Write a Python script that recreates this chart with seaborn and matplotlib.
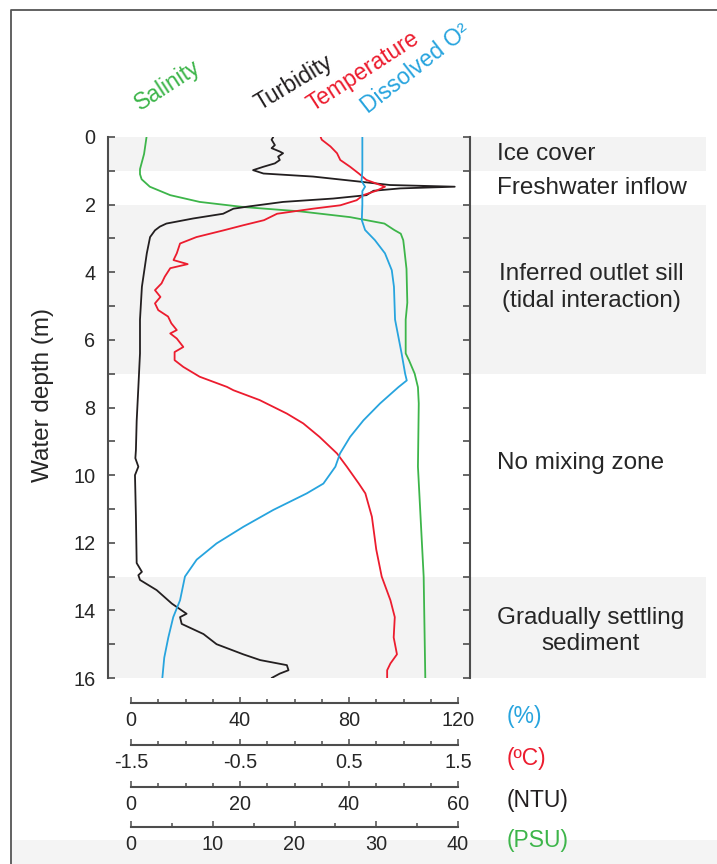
import numpy as np
import pandas as pd
import seaborn as sns
import matplotlib.pyplot as plt
import matplotlib.transforms as mtransforms
from matplotlib.lines import Line2D
from matplotlib.patches import Rectangle

# salinity profile (PSU)
sal_depth = [0, 0.5, 0.95, 1.1, 1.25, 1.47, 1.72, 1.92, 2.07, 2.2, 2.37, 2.46, 2.56,
             2.75, 2.86, 3.05, 3.25, 3.9, 4.9, 5.4, 6.4, 6.6, 7.0, 7.4, 7.88, 9.75,
             13.0, 16.0]
sal_psu = [1.9, 1.6, 1.1, 1.1, 1.3, 2.3, 4.8, 8.4, 13.7, 20.7, 26.8, 28.8, 31.0,
           32.2, 33.0, 33.3, 33.4, 33.7, 33.8, 33.6, 33.6, 34.0, 34.7, 35.1, 35.2,
           35.1, 35.8, 36.0]

# turbidity profile (NTU)
tur_depth = [0, 0.08, 0.24, 0.33, 0.43, 0.48, 0.58, 0.68, 0.78, 0.88, 0.98, 1.08,
             1.17, 1.32, 1.42, 1.47, 1.52, 1.59, 1.72, 1.82, 1.92, 2.05, 2.12, 2.27,
             2.41, 2.56, 2.65, 2.76, 2.96, 3.44, 4.43, 5.4, 6.4, 7.4, 8.4, 9.26, 9.5,
             9.75, 10.0, 11.2, 12.6, 12.86, 12.96, 13.1, 13.4, 13.8, 14.1, 14.2, 14.4,
             14.7, 15.0, 15.3, 15.47, 15.62, 15.77, 15.87, 16.0]
tur_ntu = [26.1, 25.8, 26.4, 25.8, 27.3, 27.9, 27.0, 27.3, 26.4, 24.3, 22.4, 24.3,
           33.4, 42.0, 47.5, 59.4, 49.4, 44.5, 43.2, 37.1, 27.9, 21.8, 18.8, 16.9,
           11.4, 6.5, 5.3, 4.4, 3.5, 2.9, 2.0, 1.65, 1.65, 1.35, 1.04, 0.9, 0.8,
           1.35, 0.73, 0.9, 1.04, 2.0, 1.35, 1.65, 4.7, 7.5, 10.2, 9.0, 9.3,
           13.3, 15.7, 20.6, 23.7, 28.6, 28.9, 27.3, 25.8]

# temperature profile (degC)
tmp_depth = [0, 0.08, 0.28, 0.48, 0.68, 0.88, 1.08, 1.27, 1.47, 1.59, 1.72, 1.87,
             2.02, 2.12, 2.27, 2.46, 2.61, 2.76, 2.96, 3.15, 3.44, 3.64, 3.76, 3.88,
             4.13, 4.33, 4.53, 4.73, 4.92, 5.12, 5.31, 5.51, 5.71, 5.81, 5.96, 6.21,
             6.36, 6.6, 6.8, 7.09, 7.39, 7.49, 7.78, 8.18, 8.47, 8.87, 9.36, 9.75,
             10.25, 10.54, 11.23, 12.2, 13.0, 13.7, 14.2, 14.8, 15.3, 15.57, 15.77, 16.0]
tmp_c = [0.24, 0.25, 0.33, 0.39, 0.42, 0.51, 0.59, 0.66, 0.83, 0.75, 0.63, 0.57,
         0.42, 0.17, -0.16, -0.28, -0.47, -0.65, -0.90, -1.05, -1.08, -1.11, -0.98,
         -1.14, -1.19, -1.22, -1.28, -1.23, -1.28, -1.25, -1.16, -1.13, -1.08, -1.14,
         -1.08, -1.02, -1.10, -1.10, -1.02, -0.87, -0.62, -0.56, -0.32, -0.07, 0.08,
         0.23, 0.39, 0.48, 0.59, 0.65, 0.71, 0.75, 0.80, 0.88, 0.92, 0.91, 0.94,
         0.88, 0.85, 0.85]

# dissolved oxygen profile (%)
do_depth = [0, 0.5, 1.0, 1.3, 1.47, 1.6, 2.0, 2.46, 2.75, 3.05, 3.44, 3.94, 4.43,
            5.4, 5.9, 6.4, 7.0, 7.2, 7.4, 7.88, 8.38, 8.87, 9.36, 9.75, 10.25, 10.54,
            11.03, 11.53, 12.02, 12.5, 13.0, 13.7, 14.2, 14.8, 15.4, 16.0]
do_pct = [84.9, 84.9, 84.9, 84.6, 85.9, 84.9, 84.9, 84.7, 85.9, 89.5, 93.2, 95.7,
          96.5, 96.9, 98.1, 99.3, 100.6, 101.2, 98.1, 91.4, 85.3, 80.4, 76.7, 75.0,
          70.6, 64.5, 52.2, 41.2, 31.4, 24.1, 19.8, 18.0, 15.5, 13.7, 12.2, 11.5]

# zones
zone_bands = [(0, 1), (2, 7), (13, 16)]
zone_names = ["Ice cover", "Freshwater inflow", "Inferred outlet sill\n(tidal interaction)",
              "No mixing zone", "Gradually settling\nsediment"]
zone_depths = [0.5, 1.5, 4.45, 9.65, 14.6]

# scale bars (top to bottom)
scale_units = ["(%)", "(ºC)", "(NTU)", "(PSU)"]
scale_ranges = [(0, 120), (-1.5, 1.5), (0, 60), (0, 40)]
scale_labels = [["0", "40", "80", "120"], ["-1.5", "-0.5", "0.5", "1.5"],
                ["0", "20", "40", "60"], ["0", "10", "20", "30", "40"]]
scale_minor = [10, 0.25, 5, 5]

curve_names = ["Salinity", "Turbidity", "Temperature", "Dissolved O²"]

GREEN, BLACK, RED, BLUE = "#3db54a", "#231f20", "#ec1c2e", "#27a4de"
AXCOL = "#4d4d4d"

sns.set_style("white")
plt.rcParams["font.family"] = ["Liberation Sans", "DejaVu Sans"]
plt.rcParams["axes.unicode_minus"] = False

W, H = 717, 864
fig = plt.figure(figsize=(W / 100, H / 100), dpi=100)


def fx(px):
    return px / W


def fy(py):
    return 1 - py / H


X0, X1 = 131, 458          # pixel span shared by all scale bars
AX_L, AX_R, AX_T, AX_B = 108, 470, 137, 678


def span_lim(lo, hi):
    k = (hi - lo) / (X1 - X0)
    return lo + (AX_L - X0) * k, lo + (AX_R - X0) * k


# frame + page artefacts
fig.add_artist(Rectangle((fx(12), 0), 1, fy(840), color="#f4f4f4", lw=0,
                         transform=fig.transFigure, zorder=0))
fig.add_artist(Line2D([fx(11), fx(11), 1], [0, fy(10), fy(10)], color="#555555",
                      lw=1.3, transform=fig.transFigure))

ax = fig.add_axes([fx(AX_L), fy(AX_B), fx(AX_R) - fx(AX_L), fy(AX_T) - fy(AX_B)])
ax.set_facecolor("none")
ax.set_xlim(*span_lim(0, 120))
ax.set_ylim(16, 0)

band_xmax = (706 - AX_L) / (AX_R - AX_L)
for a, b in zone_bands:
    ax.axhspan(a, b, xmin=0, xmax=band_xmax, color="#f3f3f3", lw=0,
               clip_on=False, zorder=0)

profiles = [
    (sal_psu, sal_depth, (0, 40), GREEN),
    (tur_ntu, tur_depth, (0, 60), BLACK),
    (tmp_c, tmp_depth, (-1.5, 1.5), RED),
    (do_pct, do_depth, (0, 120), BLUE),
]
for xs, ys, rng, col in profiles:
    tw = ax.twiny()
    df = pd.DataFrame({"v": xs, "depth": ys})
    sns.lineplot(data=df, x="v", y="depth", sort=False, estimator=None,
                 color=col, lw=1.3, ax=tw)
    tw.set_xlim(*span_lim(*rng))
    tw.axis("off")
ax.set_ylim(16, 0)

for s in ["top", "bottom"]:
    ax.spines[s].set_visible(False)
for s in ["left", "right"]:
    ax.spines[s].set_color(AXCOL)
    ax.spines[s].set_linewidth(1.5)
ax.set_xticks([])
ax.set_yticks(range(0, 17, 2))
ax.set_yticks(range(1, 17, 2), minor=True)
ax.tick_params(axis="y", which="both", direction="in", length=4.8, width=1.2,
               color=AXCOL, right=True, left=True, labelsize=14.3, pad=9)
ax.set_ylabel("")

fig.text(fx(43), fy(395), "Water depth (m)", rotation=90, fontsize=17.5,
         ha="center", va="center")

# rotated curve labels
label_pos = [(168, 85, 33), (294, 83, 31), (363, 71, 33), (416, 69, 38)]
for name, col, (px, py, rot) in zip(curve_names, [GREEN, BLACK, RED, BLUE], label_pos):
    fig.text(fx(px), fy(py), name, color=col, fontsize=16.5, rotation=rot,
             ha="center", va="center")

# zone annotations
tr = mtransforms.blended_transform_factory(ax.transAxes, ax.transData)
left_x = (497 - AX_L) / (AX_R - AX_L)
mid_x = (591 - AX_L) / (AX_R - AX_L)
for name, d in zip(zone_names, zone_depths):
    if "\n" in name:
        ax.text(mid_x, d, name, transform=tr, fontsize=17.5, ha="center",
                va="center", multialignment="center", linespacing=1.25)
    else:
        ax.text(left_x, d, name, transform=tr, fontsize=17.5, ha="left", va="center")

# scale bars
bar_y = [703, 745, 787, 827]
unit_cols = [BLUE, RED, BLACK, GREEN]
for unit, rng, labs, step, yb, col in zip(scale_units, scale_ranges, scale_labels,
                                          scale_minor, bar_y, unit_cols):
    sax = fig.add_axes([fx(X0), fy(yb), fx(X1) - fx(X0), 0.001])
    sax.set_facecolor("none")
    sax.set_xlim(*rng)
    for s in ["top", "left", "right"]:
        sax.spines[s].set_visible(False)
    sax.spines["bottom"].set_color(AXCOL)
    sax.spines["bottom"].set_linewidth(1.5)
    sax.set_yticks([])
    major = np.linspace(rng[0], rng[1], len(labs))
    sax.set_xticks(major)
    sax.set_xticklabels(labs)
    sax.set_xticks(np.arange(rng[0], rng[1] + step / 2, step), minor=True)
    sax.tick_params(axis="x", which="both", bottom=True, direction="in", width=1.1,
                    color=AXCOL, labelsize=14.3, pad=6)
    sax.tick_params(axis="x", which="major", length=4.5)
    sax.tick_params(axis="x", which="minor", length=3)
    fig.text(fx(507), fy(yb + 14), unit, color=col, fontsize=16.5, ha="left",
             va="center")

fig.savefig("out.png", dpi=100)
